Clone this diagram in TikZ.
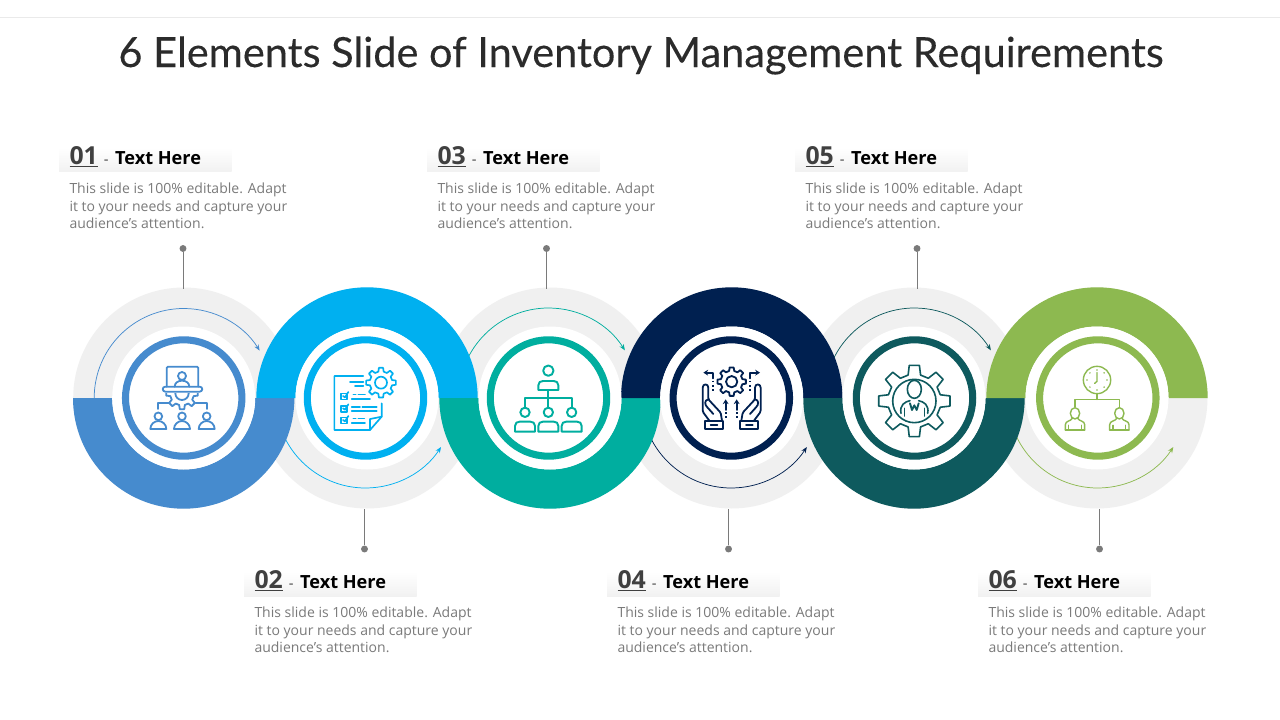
\documentclass[tikz,border=0pt]{standalone}
\usepackage{fontspec}
\setmainfont{Open Sans}
\newfontfamily\titlefont[FakeBold=0.2]{Lato}
\usetikzlibrary{arrows.meta}
\definecolor{cA}{HTML}{468BCE}
\definecolor{cB}{HTML}{00B0F0}
\definecolor{cC}{HTML}{00AE9F}
\definecolor{cD}{HTML}{002050}
\definecolor{cE}{HTML}{0E5A5E}
\definecolor{cF}{HTML}{8DB950}
\definecolor{ringgrey}{HTML}{F0F0F0}
\definecolor{bodygrey}{HTML}{7A7A7A}
\definecolor{numgrey}{HTML}{404040}
\definecolor{titlegrey}{HTML}{2B2B2B}
\definecolor{paleedge}{HTML}{EEF3F6}
\pgfdeclareradialshading{softdisc}{\pgfpointorigin}{color(0bp)=(white);color(40bp)=(white);color(50bp)=(paleedge)}
\tikzset{
  greydisc/.style={fill=ringgrey},
  thinarc/.style={line width=0.55pt,-{Stealth[length=4.5pt,width=3.6pt]}},
  leader/.style={draw=bodygrey,line width=0.7pt},
  leaddot/.style={circle,fill=bodygrey,inner sep=0pt,minimum size=5.2pt},
  headtext/.style={anchor=base west,inner sep=0pt,outer sep=0pt},
  bodytext/.style={anchor=base west,inner sep=0pt,outer sep=0pt,align=left,text=bodygrey,font=\fontsize{10.5}{13.3}\selectfont},
  iconline/.style={line join=round,line cap=round},
}
% half ring: cx, cy, colour, end angle (0 for the lower half, 360 for the upper)
\newcommand\halfring[4]{%
  \fill[#3] (#1,#2) ++(180:110.7) arc (180:#4:110.7) -- ++(-39.2,0) arc (#4:180:71.5) -- cycle;}
\newcommand\centerdisc[3]{%
  \fill[white] (#1,398) circle (71.5);
  \fill[white] (#2,398) circle (62);
  \shade[shading=softdisc] (#2,398) circle (55);
  \draw[#3,line width=5.3pt] (#2,398) circle (58.2);}
\newcommand\textblock[4]{%
  \shade[top color=white,bottom color=ringgrey!92!white] (#2-10.5,#3-16) rectangle (#2+162,#3+8);
  \node[headtext] (#1) at (#2,#3+0.5) {\textcolor{numgrey}{\fontsize{18.6}{20}\selectfont\bfseries\underline{#4}}\hspace{4.5pt}\textcolor{numgrey}{\fontsize{11}{14}\selectfont -}\hspace{5pt}\textcolor{black}{\fontsize{13.6}{16}\selectfont\bfseries Text Here}};
  \node[bodytext] (#1b) at (#2,#3+64.8) {This slide is 100\% editable. Adapt\\it to your needs and capture your\\audience's attention.};}
% gear, centred on the origin of the current scope
\newcommand\gearshape[4]{% R, root, n, rotation
  \def\st{360/#3}
  \draw[iconline] (#4-0.3*\st:#2)
   \foreach \i in {1,...,#3}{ -- (#4+\i*\st-\st-0.18*\st:#1) -- (#4+\i*\st-\st+0.18*\st:#1) -- (#4+\i*\st-\st+0.3*\st:#2) -- (#4+\i*\st-0.3*\st:#2)} -- cycle;}
\newcommand\smallperson[2]{% x, base y
  \draw[iconline] (#1,#2-38) circle (11.5);
  \draw[iconline] (#1-24,#2) -- (#1+24,#2) .. controls (#1+24,#2-14) and (#1+12,#2-24) .. (#1,#2-24) .. controls (#1-12,#2-24) and (#1-24,#2-14) .. cycle;}
\newcommand\bustperson[1]{% x centre, fixed heights
  \draw[iconline] (#1,190) ellipse (14 and 17);
  \draw[iconline] (#1-29,240) -- (#1-29,224) .. controls (#1-29,212) and (#1-12,214) .. (#1-8,205) (#1+8,205) .. controls (#1+12,214) and (#1+29,212) .. (#1+29,224) -- (#1+29,240);
  \draw[iconline] (#1-29,240) -- (#1+29,240) (#1-19,226) -- (#1-19,240) (#1+19,226) -- (#1+19,240);}
\newcommand\orgbody[3]{% x, top y, bottom y: domed top, square foot
  \draw[iconline] (#1-30,#3) -- (#1-30,#2+13) .. controls (#1-30,#2+4) and (#1-24,#2) .. (#1-16,#2) -- (#1+16,#2) .. controls (#1+24,#2) and (#1+30,#2+4) .. (#1+30,#2+13) -- (#1+30,#3) -- cycle;}
\newcommand\handshape{%
  \draw[iconline,rounded corners=1pt] (88,212) -- (68,185) -- (68,117) .. controls (68,100) and (85,100) .. (85,117) -- (85,148) -- (122,188) -- (126,212);
  \draw[iconline] (85,148) .. controls (72,150) and (74,165) .. (82,172) -- (100,192);
  \draw[iconline] (75,212) rectangle (130,238);
  \draw[iconline] (92,225) -- (112,225);}
\begin{document}
\begin{tikzpicture}[x=0.75pt,y=0.75pt,yscale=-1]
\useasboundingbox (0,0) rectangle (1280,720);
\fill[white] (0,0) rectangle (1280,720);
\draw[ringgrey!95!gray,line width=0.8pt] (0,17.5) -- (1280,17.5);
\node[inner sep=0pt,text=titlegrey,font=\titlefont\fontsize{31.15}{36}\selectfont] (title) at (641,55.5) {6 Elements Slide of Inventory Management Requirements};

% grey rings
\foreach \c in {183.7,367,550,731.7,914,1097}{\fill[greydisc] (\c,398) circle (110.5);}
% thin arrows
\draw[thinarc,cA] (183.7,398) ++(180:89.5) arc (180:328:89.5);
\draw[thinarc,cB] (365.5,398) ++(180:90) arc (180:33:90);
\draw[thinarc,cC] (548.5,398) ++(180:90) arc (180:328:90);
\draw[thinarc,cD] (731.3,398) ++(180:90) arc (180:33:90);
\draw[thinarc,cE] (914.5,398) ++(180:90) arc (180:328:90);
\draw[thinarc,cF] (1097.8,398) ++(180:90) arc (180:33:90);
% coloured half rings
\halfring{183.7}{398}{cA}{0}
\halfring{367}{398}{cB}{360}
\halfring{550}{398}{cC}{0}
\halfring{731.7}{398}{cD}{360}
\halfring{914}{398}{cE}{0}
\halfring{1097}{398}{cF}{360}
% centre discs
\centerdisc{183.7}{183.7}{cA}
\centerdisc{367}{365.5}{cB}
\centerdisc{550}{548.5}{cC}
\centerdisc{731.7}{731.3}{cD}
\centerdisc{914}{914.5}{cE}
\centerdisc{1097}{1097.8}{cF}

% text
\textblock{t1}{69.5}{164}{01}
\textblock{t3}{437.5}{164}{03}
\textblock{t5}{805.5}{164}{05}
\textblock{t2}{254.5}{588}{02}
\textblock{t4}{617.5}{588}{04}
\textblock{t6}{988.5}{588}{06}

% leaders
\node[leaddot] (d1) at (183,248.5) {}; \coordinate (e1) at (183,289);
\node[leaddot] (d3) at (546.5,248.5) {}; \coordinate (e3) at (546.5,289);
\node[leaddot] (d5) at (917,248.5) {}; \coordinate (e5) at (917,289);
\node[leaddot] (d2) at (364.5,549) {}; \coordinate (e2) at (364.5,509);
\node[leaddot] (d4) at (728.5,549) {}; \coordinate (e4) at (728.5,509);
\node[leaddot] (d6) at (1099.5,549) {}; \coordinate (e6) at (1099.5,509);
\foreach \n in {1,...,6}{\draw[leader] (d\n) -- (e\n);}

% icon 1
\begin{scope}[shift={(130,350)},x=0.25pt,y=0.25pt,draw=cA,line width=1.35pt]
  \draw[iconline,rounded corners=1pt] (110,110) -- (110,50) -- (205,50) -- (205,110);
  \draw[iconline,rounded corners=2pt] (98,110) rectangle (217,125);
  \draw[iconline] (156,78) circle (12);
  \draw[iconline] (134,110) .. controls (134,98) and (145,92) .. (156,92) .. controls (167,92) and (178,98) .. (178,110);
  \begin{scope}
    \clip (90,131) rectangle (225,190);
    \begin{scope}[shift={(156,130)}]
      \gearshape{48}{36}{8}{-90}
      \draw[iconline] (0,0) circle (20);
    \end{scope}
  \end{scope}
  \draw[iconline] (85,177) -- (85,160) -- (116,160);
  \draw[iconline] (230,177) -- (230,160) -- (197,160);
  \smallperson{85}{237}
  \smallperson{156}{237}
  \smallperson{230}{237}
\end{scope}

% icon 2
\begin{scope}[shift={(315,350)},x=0.25pt,y=0.25pt,draw=cB,line width=1.25pt]
  \draw[iconline] (145,78) -- (58,78) -- (58,240) -- (165,240) -- (200,200) -- (200,160);
  \draw[iconline] (165,240) -- (165,207) -- (200,200);
  \begin{scope}[shift={(198,98)}]
    \gearshape{45}{34}{8}{-90}
    \draw[iconline] (0,0) circle (18);
  \end{scope}
  \draw[iconline] (105,95) -- (145,95) (120,108) -- (145,108);
  \foreach \y in {128,165,200}{
    \draw[iconline] (78,\y+2) rectangle (96,\y+20);
    \draw[iconline] (84,\y+10) -- (90,\y+14) -- (100,\y-2);
  }
  \draw[iconline] (115,133) -- (122,133) (130,133) -- (150,133) (110,147) -- (165,147);
  \draw[iconline] (110,170) -- (135,170) (142,170) -- (185,170) (110,183) -- (185,183);
  \draw[iconline] (115,205) -- (122,205) (130,205) -- (148,205) (110,218) -- (150,218);
\end{scope}

% icon 3
\begin{scope}[shift={(440,280)},x=0.25pt,y=0.25pt,draw=cC,line width=1.45pt]
  \draw[iconline] (325,272) circle (15.5);
  \orgbody{325}{303}{330}
  \draw[iconline] (325,330) -- (325,383);
  \draw[iconline] (255,383) -- (255,355) -- (395,355) -- (395,383);
  \foreach \x in {255,325,395}{
    \draw[iconline] (\x,397) circle (14);
    \orgbody{\x}{425}{455}
  }
\end{scope}

% icon 4
\begin{scope}[shift={(680,350)},x=0.25pt,y=0.25pt,draw=cD,line width=1.35pt]
  \begin{scope}[shift={(155,95)}]
    \gearshape{43}{33}{8}{-90}
    \draw[iconline] (0,0) circle (17);
  \end{scope}
  \handshape
  \begin{scope}[shift={(310,0)},xscale=-1]
    \handshape
  \end{scope}
  \draw[iconline,-{Stealth[length=3.6pt,width=4.4pt]}] (100,85) -- (100,68) -- (70,68);
  \draw[iconline,-{Stealth[length=3.6pt,width=4.4pt]}] (210,85) -- (210,68) -- (240,68);
  \draw[dash pattern=on 1.3pt off 2pt] (100,92) -- (100,130) (210,92) -- (210,130);
  \draw[iconline,-{Stealth[length=3.6pt,width=4.4pt]}] (137,180) -- (137,148);
  \draw[iconline,-{Stealth[length=3.6pt,width=4.4pt]}] (170,180) -- (170,148);
  \draw[dash pattern=on 1.3pt off 2pt] (137,186) -- (137,208) (170,186) -- (170,208);
\end{scope}

% icon 5
\begin{scope}[shift={(865,350)},x=0.25pt,y=0.25pt,draw=cE,line width=1.2pt]
  \begin{scope}[shift={(148,153)}]
    \gearshape{108}{80}{8}{-90}
    \draw[iconline] (0,0) circle (65);
  \end{scope}
  \draw[iconline] (148,118) ellipse (21 and 27);
  \draw[iconline] (108,190) .. controls (103,165) and (120,155) .. (135,152);
  \draw[iconline] (188,190) .. controls (193,165) and (176,155) .. (161,152);
  \draw[iconline] (118,175) -- (118,198) (178,175) -- (178,198);
  \draw[iconline,line width=1.4pt] (135,160) -- (141,180) -- (148,166) -- (155,180) -- (161,160);
\end{scope}

% icon 6
\begin{scope}[shift={(1050,350)},x=0.25pt,y=0.25pt,draw=cF,line width=1.05pt]
  \draw[iconline] (141,90) circle (41);
  \foreach \a in {0,45,...,315}{\fill[cF] (141,90) ++(\a:30) circle (2.6);}
  \draw[iconline] (141,68) -- (141,94) -- (134,100);
  \draw[iconline] (141,131) -- (141,148);
  \draw[iconline] (75,170) -- (75,148) -- (208,148) -- (208,170);
  \bustperson{75}
  \bustperson{208}
\end{scope}
\end{tikzpicture}
\end{document}
